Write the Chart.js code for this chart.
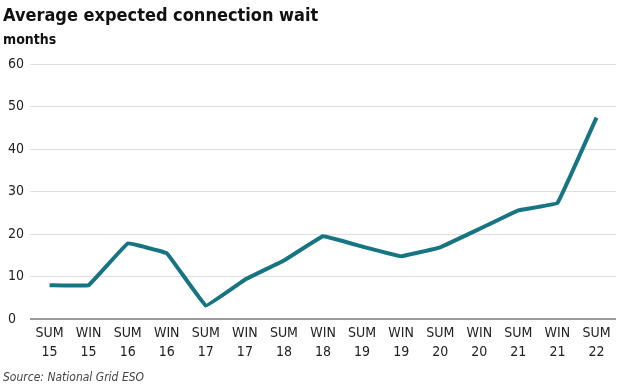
<!DOCTYPE html>
<html>
<head>
<meta charset="utf-8">
<script src="https://cdn.jsdelivr.net/npm/chart.js@4"></script>
<style>
  html, body { margin: 0; padding: 0; background: #fff; }
  #wrap { width: 624px; height: 385px; }
</style>
</head>
<body>
<div id="wrap"><canvas id="chart" width="624" height="385"></canvas></div>
<script>
// Average expected connection wait

const seasons = ['SUM', 'WIN', 'SUM', 'WIN', 'SUM', 'WIN', 'SUM', 'WIN', 'SUM', 'WIN', 'SUM', 'WIN', 'SUM', 'WIN', 'SUM'];
const years = ['15', '15', '16', '16', '17', '17', '18', '18', '19', '19', '20', '20', '21', '21', '22'];
const waitMonths = [8, 8, 17.8, 15.5, 3.2, 9.3, 13.8, 19.5, 17.1, 14.8, 16.9, 21.2, 25.6, 27.3, 47.4];
const yTicks = [0, 10, 20, 30, 40, 50, 60];

const FONT = "'DejaVu Sans Condensed', 'DejaVu Sans', sans-serif";
const LINE_COLOR = '#177483';

const labels = seasons.map((s, i) => [s, years[i]]);

// Title, unit line and source drawn by hand so they sit flush left
const textPlugin = {
  id: 'chartTexts',
  afterDraw(chart) {
    const ctx = chart.ctx;
    ctx.save();
    ctx.textAlign = 'left';
    ctx.textBaseline = 'alphabetic';
    ctx.fillStyle = '#111';
    ctx.font = `bold 18px ${FONT}`;
    ctx.fillText('Average expected connection wait', 3, 21);
    ctx.font = `bold 14px ${FONT}`;
    ctx.fillText('months', 3, 44);
    ctx.font = `italic 12px ${FONT}`;
    ctx.fillStyle = '#444';
    ctx.fillText('Source: National Grid ESO', 3, 381);
    ctx.restore();
  }
};

new Chart(document.getElementById('chart'), {
  type: 'line',
  data: {
    labels: labels,
    datasets: [{
      data: waitMonths,
      borderColor: LINE_COLOR,
      borderWidth: 4,
      pointRadius: 0,
      tension: 0.05,
      fill: false,
      borderCapStyle: 'butt',
      borderJoinStyle: 'round',
    }],
  },
  options: {
    responsive: false,
    animation: false,
    devicePixelRatio: 1,
    layout: { padding: { left: 8, right: 8, top: 64, bottom: 18 } },
    plugins: {
      legend: { display: false },
      tooltip: { enabled: false },
      title: { display: false },
    },
    scales: {
      x: {
        offset: true,
        grid: { display: false, drawTicks: false },
        border: { display: false },
        ticks: {
          color: '#222',
          font: { family: FONT, size: 14, lineHeight: 1.35 },
          maxRotation: 0,
          autoSkip: false,
          padding: 5,
        },
      },
      y: {
        min: 0,
        max: 60,
        afterBuildTicks(axis) { axis.ticks = yTicks.map(v => ({ value: v })); },
        grid: {
          drawTicks: false,
          color: ctx => ctx.tick && ctx.tick.value === 0 ? '#9a9a9a' : '#dedede',
          lineWidth: ctx => ctx.tick && ctx.tick.value === 0 ? 2 : 1,
        },
        border: { display: false },
        ticks: {
          color: '#222',
          font: { family: FONT, size: 14 },
          crossAlign: 'far',
          padding: 3,
        },
      },
    },
  },
  plugins: [textPlugin],
});
</script>
</body>
</html>
